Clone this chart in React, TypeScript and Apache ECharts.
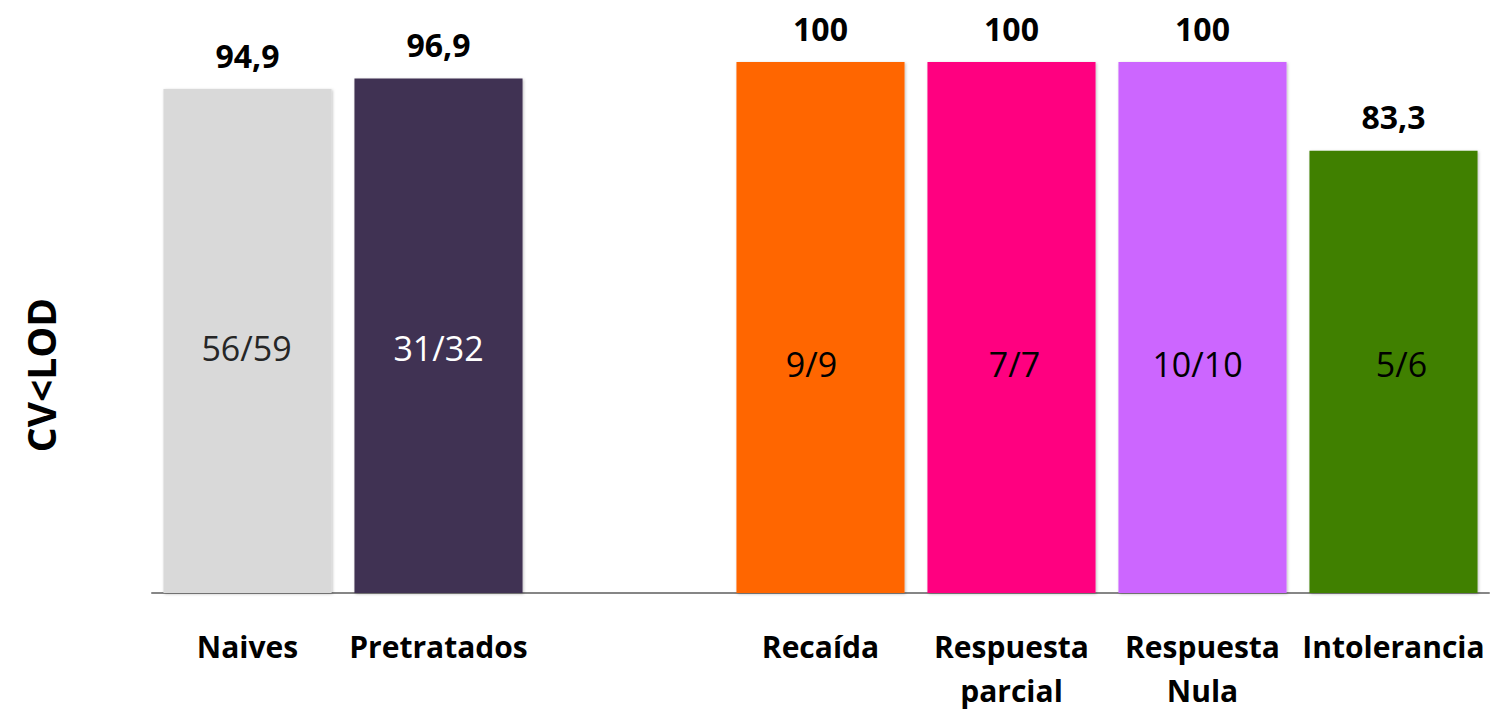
import React, { useEffect, useRef } from "react";
import * as echarts from "echarts";

const categories = ["Naives", "Pretratados", "", "Recaída", "Respuesta\nparcial", "Respuesta\nNula", "Intolerancia"];
const percentValues: (number | null)[] = [94.9, 96.9, null, 100, 100, 100, 83.3];
const valueLabels = ["94,9", "96,9", "", "100", "100", "100", "83,3"];
const fractionLabels = ["56/59", "31/32", "", "9/9", "7/7", "10/10", "5/6"];
const barColors = ["#D9D9D9", "#403152", "#FFFFFF", "#FF6600", "#FF0080", "#CC66FF", "#408000"];
const fractionColors = ["#262626", "#FFFFFF", "#000000", "#000000", "#000000", "#000000", "#000000"];
// label placement tweaks (style only)
const fractionLift = [225, 225, 0, 209, 209, 209, 209];
const fractionShift = [-1, 0, 0, -9, 3, -5, 8];

const FONT = "'Open Sans', sans-serif";

export default function App() {
  const ref = useRef<HTMLDivElement>(null);
  useEffect(() => {
    if (!ref.current) return;
    const chart = echarts.init(ref.current, undefined, { renderer: "svg" });
    const mainData = percentValues.map((v, i) => ({
      value: v,
      itemStyle: { color: barColors[i] },
      label: { formatter: valueLabels[i] },
    }));
    const innerData = percentValues.map((v, i) => ({
      value: v,
      label: {
        formatter: fractionLabels[i],
        color: fractionColors[i],
        distance: fractionLift[i],
        offset: [fractionShift[i], 0],
      },
    }));
    chart.setOption({
      animation: false,
      grid: { left: 152, right: 1, top: 62, bottom: 112, containLabel: false },
      xAxis: {
        type: "category",
        data: categories,
        axisLine: { show: true, lineStyle: { color: "#868686", width: 2 } },
        axisTick: { show: false },
        axisLabel: {
          interval: 0,
          margin: 31,
          fontFamily: FONT,
          fontWeight: "bold",
          fontSize: 30,
          lineHeight: 44,
          color: "#000000",
          verticalAlign: "top",
        },
      },
      yAxis: {
        type: "value",
        min: 0,
        max: 100,
        show: false,
        splitLine: { show: false },
      },
      graphic: [
        {
          type: "text",
          x: 40,
          y: 375,
          rotation: Math.PI / 2,
          style: {
            text: "CV<LOD",
            fontFamily: FONT,
            fontWeight: "bold",
            fontSize: 39,
            fill: "#000000",
            textAlign: "center",
            textVerticalAlign: "middle",
          },
        },
      ],
      series: [
        {
          type: "bar",
          data: mainData,
          barCategoryGap: "12%",
          barGap: "-100%",
          itemStyle: {
            shadowBlur: 3,
            shadowColor: "rgba(0,0,0,0.25)",
            shadowOffsetX: 1,
            shadowOffsetY: 1,
          },
          label: {
            show: true,
            position: "top",
            distance: 14,
            fontFamily: FONT,
            fontWeight: "bold",
            fontSize: 32,
            lineHeight: 40,
            color: "#000000",
          },
        },
        {
          type: "bar",
          data: innerData,
          barCategoryGap: "12%",
          barGap: "-100%",
          itemStyle: { color: "rgba(0,0,0,0)" },
          label: {
            show: true,
            position: "insideBottom",
            fontFamily: FONT,
            fontSize: 34,
            lineHeight: 40,
          },
          z: 3,
        },
      ],
    });
    return () => chart.dispose();
  }, []);
  return (
    <div
      ref={ref}
      style={{ position: "fixed", left: 0, top: 0, width: 1490, height: 712, background: "#FFFFFF" }}
    />
  );
}
